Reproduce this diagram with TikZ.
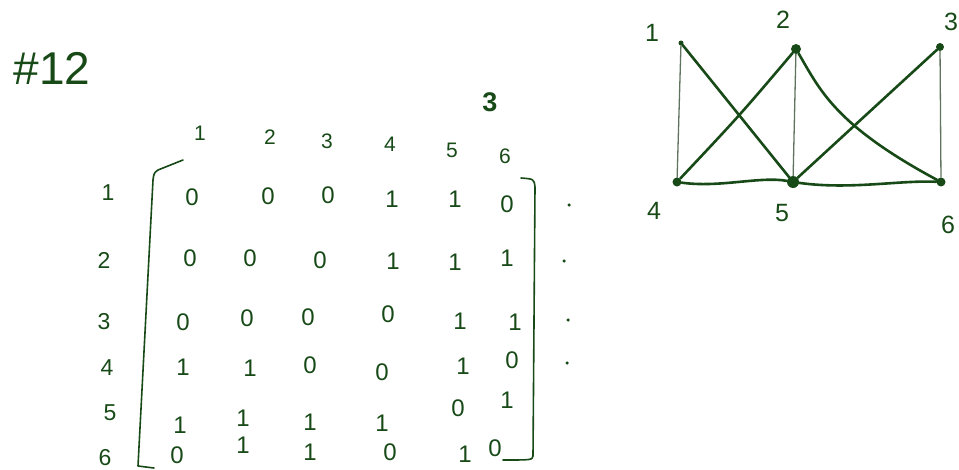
\documentclass[tikz,border=0pt]{standalone}
\usepackage{fontspec}
\setmainfont{Liberation Sans}
\definecolor{ink}{RGB}{24,74,24}
\definecolor{faint}{RGB}{95,115,95}
\begin{document}
\begin{tikzpicture}[x=1pt,y=-1pt,
  every node/.style={text=ink, inner sep=0pt},
  titletext/.style={font=\fontsize{46}{50}\selectfont},
  headtext/.style={font=\fontsize{21}{24}\selectfont},
  rowtext/.style={font=\fontsize{23}{26}\selectfont},
  entry/.style={font=\fontsize{24}{26}\selectfont},
  glabel/.style={font=\fontsize{25}{28}\selectfont},
  typed/.style={font=\bfseries\fontsize{27}{30}\selectfont},
  vtx/.style={circle, fill=ink, minimum size=#1, inner sep=0pt},
  vtx/.default=9pt,
  bracketline/.style={draw=ink, line width=1.6pt, line cap=round, line join=round},
  thickedge/.style={draw=ink, line width=2.6pt, line cap=round},
  thinedge/.style={draw=faint, line width=1.3pt, line cap=round},
  rowdot/.style={circle, fill=ink, minimum size=3.5pt}]
\useasboundingbox (0,0) rectangle (959,469);

% title
\node[titletext] (title) at (52,68) {\#12};

% column headers
\node[headtext] (c1) at (200,133) {1};
\node[headtext] (c2) at (270,137) {2};
\node[headtext] (c3) at (327,141) {3};
\node[headtext] (c4) at (390,144) {4};
\node[headtext] (c5) at (452,150) {5};
\node[headtext] (c6) at (505,156) {6};

% row labels
\node[rowtext] (r1) at (108,193) {1};
\node[rowtext] (r2) at (104,260) {2};
\node[rowtext] (r3) at (104,322) {3};
\node[rowtext] (r4) at (107,368) {4};
\node[rowtext] (r5) at (110,413) {5};
\node[rowtext] (r6) at (105,458) {6};

% matrix entries
\node[entry] (m11) at (192,197) {0};
\node[entry] (m12) at (268,196) {0};
\node[entry] (m13) at (328,195) {0};
\node[entry] (m14) at (392,199) {1};
\node[entry] (m15) at (455,199) {1};
\node[entry] (m16) at (507,204) {0};

\node[entry] (m21) at (190,258) {0};
\node[entry] (m22) at (250,258) {0};
\node[entry] (m23) at (320,260) {0};
\node[entry] (m24) at (393,261) {1};
\node[entry] (m25) at (455,262) {1};
\node[entry] (m26) at (507,258) {1};

\node[entry] (m31) at (183,322) {0};
\node[entry] (m32) at (247,318) {0};
\node[entry] (m33) at (308,317) {0};
\node[entry] (m34) at (388,314) {0};
\node[entry] (m35) at (460,321) {1};
\node[entry] (m36) at (515,322) {1};

\node[entry] (m41) at (183,367) {1};
\node[entry] (m42) at (250,368) {1};
\node[entry] (m43) at (310,365) {0};
\node[entry] (m44) at (382,372) {0};
\node[entry] (m45) at (463,366) {1};
\node[entry] (m46) at (512,360) {0};

\node[entry] (m51) at (180,425) {1};
\node[entry] (m52) at (243,418) {1};
\node[entry] (m53) at (310,422) {1};
\node[entry] (m54) at (382,423) {1};
\node[entry] (m55) at (458,408) {0};
\node[entry] (m56) at (507,400) {1};

\node[entry] (m61) at (177,455) {0};
\node[entry] (m62) at (243,445) {1};
\node[entry] (m63) at (310,452) {1};
\node[entry] (m64) at (390,452) {0};
\node[entry] (m65) at (465,454) {1};
\node[entry] (m66) at (495,448) {0};

% brackets
\draw[bracketline] (183,160) -- (158,170) .. controls (154,173) .. (153,180)
  -- (138,466) -- (154,468);
\draw[bracketline] (521,178) .. controls (534,179) .. (535,187)
  -- (533,456) .. controls (532,460) .. (503,460);

% dots to the right of the rows
\node[rowdot] (d1) at (569,205) {};
\node[rowdot] (d2) at (564,261) {};
\node[rowdot] (d3) at (568,320) {};
\node[rowdot] (d4) at (567,363) {};

% typed label
\node[typed] (t3) at (490,102) {3};

% graph vertices
\node[vtx=5pt]  (v1) at (681,43) {};
\node[vtx=10pt] (v2) at (796,49) {};
\node[vtx=8pt]  (v3) at (940,47) {};
\node[vtx=9pt]  (v4) at (677,182) {};
\node[vtx=12pt] (v5) at (793,182) {};
\node[vtx=9pt]  (v6) at (941,182) {};

% graph labels
\node[glabel] (l1) at (652,33) {1};
\node[glabel] (l2) at (783,20) {2};
\node[glabel] (l3) at (951,22) {3};
\node[glabel] (l4) at (654,211) {4};
\node[glabel] (l5) at (782,213) {5};
\node[glabel] (l6) at (948,225) {6};

% graph edges
\draw[thinedge] (v1) -- (v4);
\draw[thickedge] (v1) -- (v5);
\draw[thickedge] (v2) .. controls (740,115) .. (v4);
\draw[thinedge] (v2) -- (v5);
\draw[thickedge] (v2) .. controls (820,90) and (835,125) .. (v6);
\draw[thickedge] (v3) -- (v5);
\draw[thinedge] (v3) -- (v6);
\draw[thickedge] (v4) .. controls (720,188) and (760,176) .. (v5);
\draw[thickedge] (v5) .. controls (850,190) and (900,180) .. (v6);
\end{tikzpicture}
\end{document}
